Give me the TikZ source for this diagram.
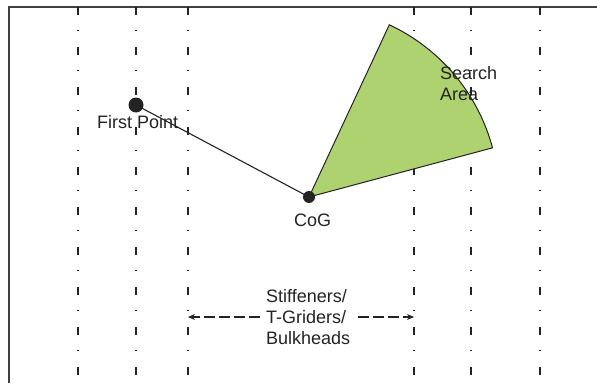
\documentclass[tikz,border=0pt]{standalone}
\usepackage{fontspec}
\setmainfont{Liberation Sans}
\usetikzlibrary{arrows.meta}
\definecolor{areagreen}{RGB}{174,210,112}
\definecolor{ink}{RGB}{35,35,35}
\begin{document}
\begin{tikzpicture}[x=1pt,y=-1pt,
  gridline/.style={line width=1.5pt, ink, dash pattern=on 8pt off 15pt on 1pt off 16pt},
  frameline/.style={line width=1.6pt, color=black!75},
  lbl/.style={font=\fontsize{18}{21}\selectfont, text=ink, inner sep=0pt, align=left},
  blob/.style={circle, fill=ink, inner sep=0pt},
  dimarrow/.style={line width=1.1pt, ink, dash pattern=on 11pt off 4pt, -{Stealth[length=7pt,width=6pt]}}
]
\useasboundingbox (0,0) rectangle (597,383);
% frame
\draw[frameline] (9,383) -- (9,7) -- (597,7);
% stiffener lines
\foreach \x in {78,136,188,414,471,540}
  \draw[gridline] (\x,7) -- (\x,383);
% search area sector
\coordinate (cogc) at (309,197);
\filldraw[fill=areagreen, draw=ink, line width=1pt]
  (cogc) -- ++(65:190pt) arc[start angle=65, end angle=15, radius=190pt] -- cycle;
% points
\node[blob, minimum size=15pt] (first) at (136,105) {};
\node[blob, minimum size=12pt] (cog) at (309,197) {};
\draw[line width=1.1pt, ink] (first.center) -- (cog.center);
% labels
\node[lbl, anchor=base west] (firstlbl) at (97,128) {First Point};
\node[lbl, anchor=base west] (coglbl) at (294,226) {CoG};
\node[lbl, anchor=base west] (searchlbl) at (440,100) {Search\\Area};
\node[lbl, anchor=base west] (stifflbl) at (266,344) {Stiffeners/\\T-Griders/\\Bulkheads};
% dimension arrows
\coordinate (al0) at (260,317);
\coordinate (al1) at (188,317);
\coordinate (ar0) at (358,317);
\coordinate (ar1) at (414,317);
\draw[dimarrow] (al0) -- (al1);
\draw[dimarrow] (ar0) -- (ar1);
\end{tikzpicture}
\end{document}
